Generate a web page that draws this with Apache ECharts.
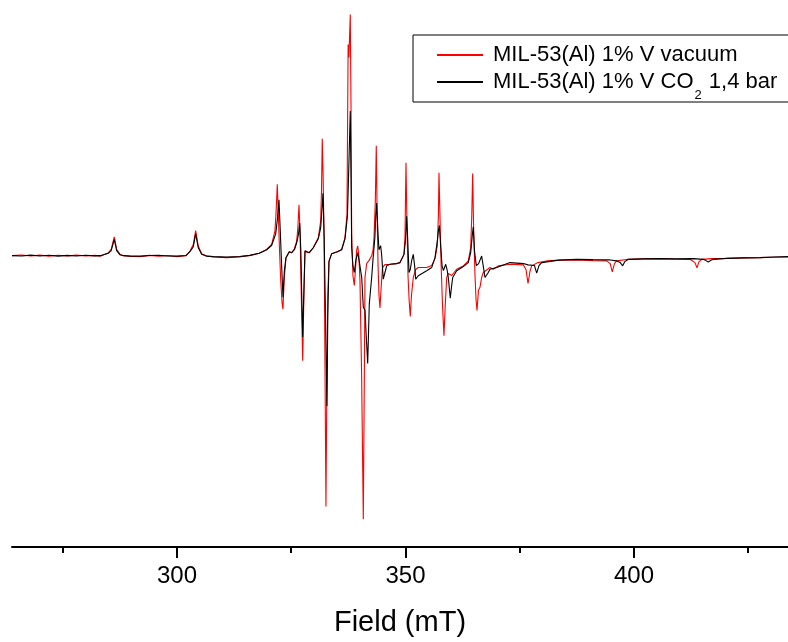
<!DOCTYPE html>
<html><head><meta charset="utf-8">
<script src="https://cdn.jsdelivr.net/npm/echarts@6/dist/echarts.min.js"></script>
<style>html,body{margin:0;padding:0;background:#fff}#c{width:788px;height:642px}</style>
</head><body><div id="c"></div>
<script>
const vacuumName = 'MIL-53(Al) 1% V vacuum';
const co2Name = 'MIL-53(Al) 1% V CO2 1,4 bar';

// [field (mT), signal (a.u.)]
const vacuumPoints = [[263.9,0],[266,0.6],[268,-0.4],[270,0.5],[272,-0.6],[274,0.4],[276,-0.3],[278,0.5],[280,-0.4],[282,0.3],[283.2,-0.5],[285.0,3],[285.6,6.3],[286.28,19],[286.8,6.3],[287.5,1.5],[288.3,0],[290,-0.8],[292,-1],[294,0.3],[296,-0.6],[298,0.2],[300,-1],[302,0],[302.84,4.7],[303.57,11.3],[304.09,25.3],[304.66,9.7],[305.4,2],[306.5,-0.3],[308,-1.2],[310.88,-2],[313.79,-1],[315.97,0.3],[318,2.5],[319.63,6.3],[320.72,11.3],[321.44,25],[321.7,45],[321.95,72],[322.15,45],[322.4,10],[322.7,-25],[323.0,-48],[323.19,-54],[323.45,-25],[323.85,-2],[324.57,4],[325.1,3],[325.7,7],[326.19,14.7],[326.45,28],[326.7,51.3],[326.95,20],[327.2,-40],[327.51,-106],[327.75,-45],[328.01,4],[328.95,3],[329.82,8],[330.92,18],[331.44,35],[331.62,65],[331.79,118],[331.98,80],[332.2,10],[332.4,-120],[332.6,-253],[332.78,-140],[333.0,-40],[333.26,-5.3],[333.85,2],[335.08,4],[336.04,6.3],[336.76,18],[337.2,42],[337.45,213],[337.62,200],[337.92,243.3],[338.08,150],[338.23,20],[338.5,-20],[338.8,-30],[339.05,-15],[339.3,5],[339.54,10],[339.8,0],[340.04,-25],[340.4,-120],[340.77,-266],[341.0,-120],[341.14,-22],[341.5,-8],[342.0,-5],[342.6,0],[342.89,5],[343.11,18],[343.4,55],[343.61,111],[343.8,40],[344.0,-10],[344.2,-40],[344.42,-52.7],[344.64,-35],[344.97,-12],[345.5,-9],[346.61,-8.7],[348.07,-8],[348.8,-7],[349.17,-5],[349.67,1.3],[349.9,20],[350.11,93.7],[350.3,40],[350.55,-20],[350.8,-45],[351.05,-61.3],[351.31,-40],[351.71,-22],[352.23,-14],[352.8,-12],[353.17,-12],[354.64,-12],[355.73,-10],[356.46,-3],[356.96,10],[357.2,40],[357.33,83.7],[357.6,30],[357.8,-10],[358.1,-50],[358.42,-80.7],[358.7,-50],[359.02,-22],[359.37,-18],[360.11,-20],[361.2,-13.7],[362.65,-10.3],[363.74,-5.3],[364.27,8],[364.5,40],[364.7,83],[364.9,30],[365.21,-20],[365.45,-45],[365.65,-55.3],[365.97,-35],[366.3,-32],[366.67,-22],[367.02,-17],[368.49,-12],[369.21,-13.7],[370.31,-10.3],[372.87,-8.7],[375.78,-9.3],[376.37,-14],[376.81,-28],[377.24,-16],[377.61,-10.3],[379,-7],[380.9,-5.3],[384,-4.5],[387.46,-4.3],[391,-5],[394.03,-5.3],[394.8,-8],[395.25,-16.3],[395.73,-8],[396.21,-5.3],[398.75,-3.7],[402,-3.2],[405.69,-3],[409,-3.5],[412.25,-3.7],[413.35,-7],[413.79,-12.3],[414.22,-6],[414.81,-3.7],[417,-3],[420.28,-2.7],[424,-2.2],[427.57,-2],[430.5,-1.6],[433.7,-1.3]];

const co2Points = [[263.9,0],[266,-0.4],[268,0.5],[270,-0.3],[272,0.4],[274,-0.5],[276,0.3],[278,-0.3],[280,0.4],[282,-0.2],[283.2,0],[285.0,2.5],[285.6,5],[286.28,16.3],[286.8,5],[287.5,1],[288.3,0],[290,-0.5],[292,-0.5],[294,0.2],[296,0.3],[298,-0.4],[300,-0.5],[302,0.2],[302.84,4],[303.57,9],[304.09,22],[304.66,8],[305.4,1.5],[306.5,-0.5],[308,-1],[310.88,-1.5],[313.79,-1],[315.97,0.3],[318,2.5],[319.63,6],[320.72,10.5],[321.6,22],[322.0,38],[322.32,56.3],[322.6,25],[322.9,-10],[323.19,-42],[323.5,-15],[323.85,-2],[324.57,4],[325.1,3],[325.7,6],[326.19,13],[326.6,22],[326.85,33],[327.1,5],[327.3,-40],[327.51,-82],[327.8,-30],[328.01,5],[328.95,3],[329.82,8],[330.92,17],[331.44,28],[331.7,45],[331.95,63],[332.2,20],[332.5,-60],[332.82,-152],[333.0,-60],[333.26,-6],[333.85,2],[335.08,4],[336.04,6],[336.76,17],[337.3,40],[337.6,90],[337.92,146],[338.08,80],[338.23,8],[338.5,-10],[338.8,-17],[339.17,-4],[339.54,3],[339.93,-7],[340.42,-22],[340.77,-52],[341.14,-55],[341.4,-80],[341.73,-108.7],[341.9,-80],[342.08,-48.7],[342.6,-22],[342.89,-4],[343.3,18],[343.5,40],[343.7,53],[343.98,23],[344.2,6],[344.57,10],[344.8,0],[345.14,-23.7],[345.51,-17],[345.89,-10.3],[346.61,-8.7],[348.07,-8],[348.8,-7],[349.67,1.3],[350.0,15],[350.26,39.7],[350.5,15],[350.77,-17],[351.05,-14],[351.35,-5],[351.71,1.3],[352.0,-10],[352.23,-23.7],[352.8,-20.3],[353.17,-18.7],[354.64,-15.3],[355.73,-12],[356.46,-2],[356.96,14.7],[357.2,25],[357.4,30.7],[357.7,10],[358.0,-10],[358.3,-15],[358.8,-8.7],[359.1,-14],[359.37,-22],[359.8,-43],[360.11,-30],[360.33,-22],[361.2,-15.3],[362.65,-11],[363.74,-7],[364.27,3],[364.6,20],[364.83,29],[365.1,5],[365.5,-10],[366.0,-8],[366.67,-0.3],[367.0,-10],[367.4,-22],[368.12,-17],[368.49,-13.7],[369.96,-12],[372.87,-7],[375.78,-8],[376.81,-9.3],[378.23,-10],[378.71,-17.7],[379.21,-10],[379.8,-7],[383.5,-4.5],[387.46,-3.7],[391,-4],[394.75,-4.3],[396.21,-5.3],[397.0,-7],[397.53,-10.3],[398.0,-6],[398.75,-3.7],[402,-3.2],[405.69,-3],[409,-3.2],[412.98,-3],[415.16,-3.7],[415.75,-5],[416.26,-6.3],[416.74,-5],[417.35,-3.7],[420.28,-2.7],[424,-2.2],[427.57,-2],[430.5,-1.4],[433.7,-1]];

const majorTicks = [300, 350, 400];
const minorTicks = [275, 325, 375, 425];
const fieldRange = [263.9, 433.7];
const signalRange = [-294, 258];

const FONT = 'Liberation Sans, Arial, sans-serif';
const chart = echarts.init(document.getElementById('c'), null, {renderer: 'canvas'});
chart.setOption({
  animation: false,
  backgroundColor: '#fff',
  grid: {left: 12, right: 0, top: 0, bottom: 90, containLabel: false},
  xAxis: [{
    type: 'value', min: fieldRange[0], max: fieldRange[1], position: 'bottom',
    axisLine: {show: true, onZero: false, lineStyle: {color: '#000', width: 2}},
    axisTick: {show: true, inside: false, customValues: majorTicks, length: 11, lineStyle: {color: '#000', width: 2}},
    axisLabel: {show: true, customValues: majorTicks, fontSize: 24, color: '#000', margin: 17, fontFamily: FONT},
    splitLine: {show: false},
    name: 'Field (mT)', nameLocation: 'middle', nameGap: 61,
    nameTextStyle: {fontSize: 29, color: '#000', fontFamily: FONT}
  }, {
    type: 'value', min: fieldRange[0], max: fieldRange[1], position: 'bottom', offset: 0,
    axisLine: {show: false, onZero: false},
    axisTick: {show: true, inside: false, customValues: minorTicks, length: 6, lineStyle: {color: '#000', width: 2}},
    axisLabel: {show: false},
    splitLine: {show: false}
  }],
  yAxis: {type: 'value', min: signalRange[0], max: signalRange[1], show: false, splitLine: {show: false}},
  legend: {
    orient: 'vertical', left: 413, top: 35,
    padding: [9, 40, 0, 23], itemGap: 5, itemWidth: 46, itemHeight: 2,
    borderColor: '#000', borderWidth: 1, borderRadius: 0,
    selectedMode: false,
    data: [{name: vacuumName}, {name: co2Name}],
    formatter: function (name) {
      if (name === co2Name) return '{n|MIL-53(Al) 1% V CO}{s|2}{n| 1,4 bar}';
      return '{n|' + name + '}';
    },
    textStyle: {
      fontFamily: FONT, fontSize: 22, color: '#000', padding: [0, 0, 0, 5],
      rich: {
        n: {fontFamily: FONT, fontSize: 22, lineHeight: 22, color: '#000'},
        s: {fontFamily: FONT, fontSize: 13, lineHeight: 13, padding: [18, 1, -9, 1], color: '#000'}
      }
    }
  },
  series: [{
    name: vacuumName, type: 'line', xAxisIndex: 0, data: vacuumPoints,
    symbol: 'none', showSymbol: false, lineStyle: {color: '#ff0000', width: 1.1}, itemStyle: {color: '#ff0000'},
    emphasis: {disabled: true}, z: 2
  }, {
    name: co2Name, type: 'line', xAxisIndex: 0, data: co2Points,
    symbol: 'none', showSymbol: false, lineStyle: {color: '#000', width: 1.1}, itemStyle: {color: '#000'},
    emphasis: {disabled: true}, z: 3
  }]
});
</script></body></html>
